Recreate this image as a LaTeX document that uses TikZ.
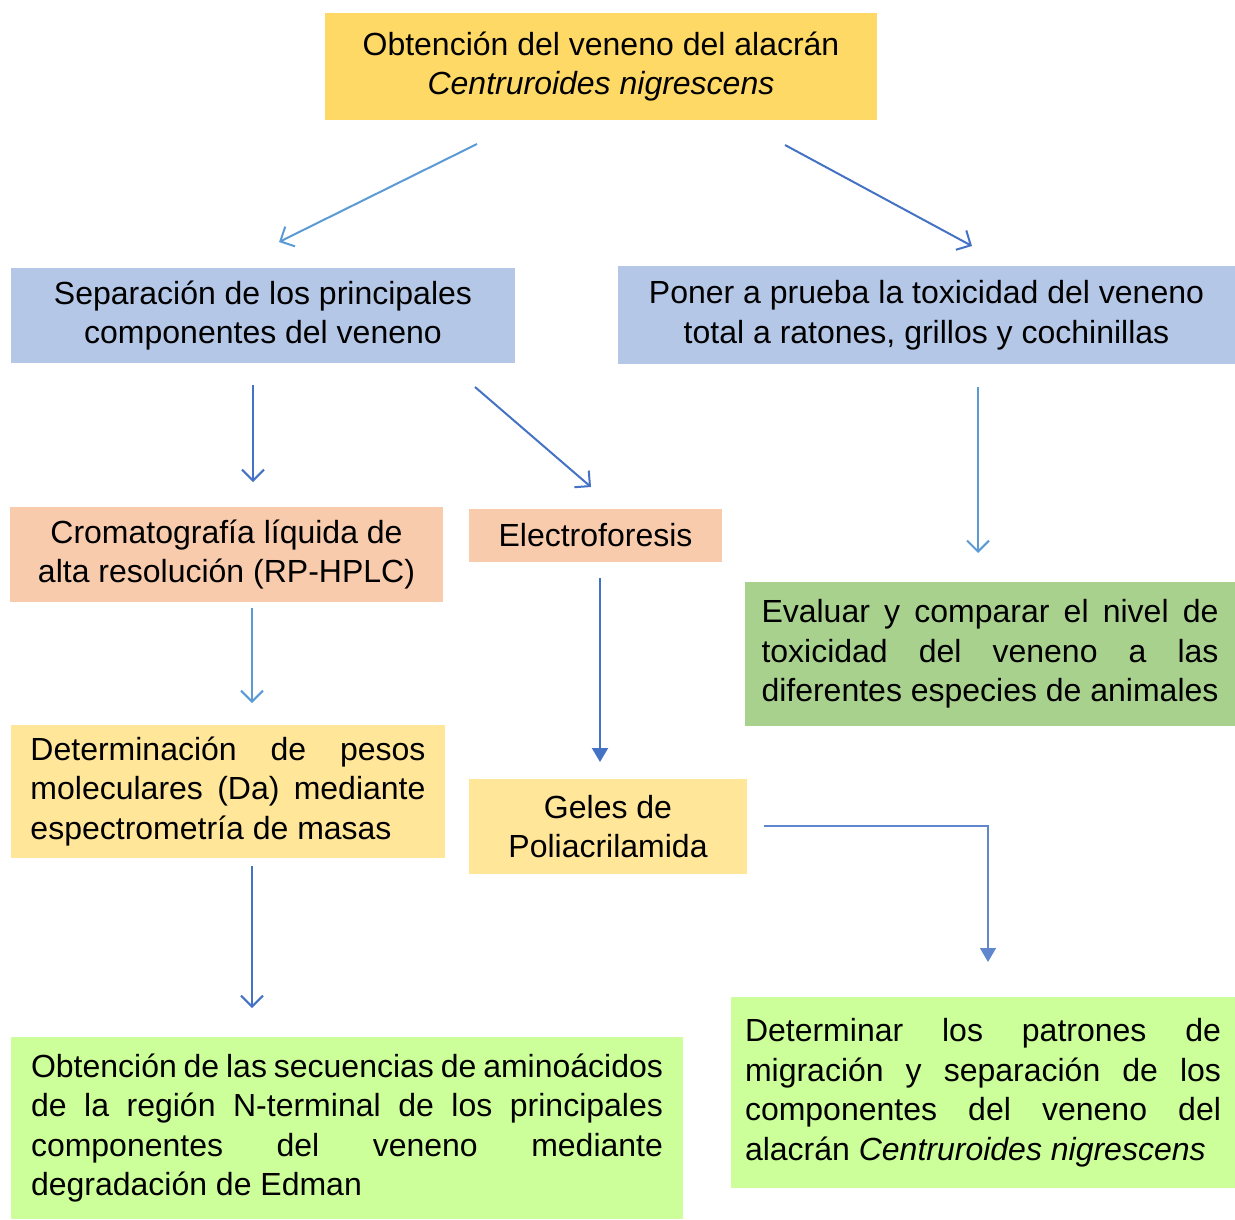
\documentclass[tikz,border=0pt]{standalone}
\usepackage{fontspec}
\setmainfont{Liberation Sans}
\usetikzlibrary{arrows.meta}
\definecolor{goldbox}{HTML}{FFD966}
\definecolor{bluebox}{HTML}{B4C7E7}
\definecolor{peachbox}{HTML}{F8CBAD}
\definecolor{creambox}{HTML}{FFE699}
\definecolor{greenbox}{HTML}{A9D18E}
\definecolor{limebox}{HTML}{CCFF99}
\definecolor{lightarrow}{HTML}{5B9BD5}
\definecolor{darkarrow}{HTML}{4472C4}
\newcommand{\nohyph}{\hyphenpenalty=10000\relax\exhyphenpenalty=10000\relax}
\tikzstyle{box}=[inner sep=0pt, font=\fontsize{32}{39.5}\selectfont\nohyph]
\tikzstyle{line}=[line width=2pt, -{Straight Barb[length=11pt,width=22pt,line width=2pt]}]
\tikzstyle{solidline}=[line width=2pt, -{Triangle[length=14pt,width=16pt]}]

\begin{document}
\begin{tikzpicture}[x=1pt, y=-1pt]
            \useasboundingbox (0,0) rectangle (1235,1220);

            \node[box, fill=goldbox, minimum width=552, minimum height=107, align=center] (venom) at (601,66.5)
                {Obtención del veneno del alacrán\\\textit{Centruroides nigrescens}};
            \node[box, fill=bluebox, minimum width=504, minimum height=95, align=center] (separa) at (263,315.5)
                {Separación de los principales\\componentes del veneno};
            \node[box, fill=bluebox, minimum width=617, minimum height=98, align=center] (toxic) at (926.5,315)
                {Poner a prueba la toxicidad del veneno\\total a ratones, grillos y cochinillas};
            \node[box, fill=peachbox, minimum width=433, minimum height=95, align=center] (hplc) at (226.5,554.5)
                {Cromatografía líquida de\\alta resolución (RP-HPLC)};
            \node[box, fill=peachbox, minimum width=253, minimum height=53, align=center] (electro) at (595.5,535.5)
                {Electroforesis};
            \node[box, fill=greenbox, minimum width=490, minimum height=144, text width=457, align=justify] (evalua) at (990,654)
                {Evaluar y comparar el nivel de\linebreak toxicidad del veneno a las\linebreak diferentes especies de animales};
            \node[box, fill=creambox, minimum width=434, minimum height=133, text width=395, align=justify] (masas) at (228,791.5)
                {Determinación de pesos\linebreak moleculares (Da) mediante\linebreak espectrometría de masas};
            \node[box, fill=limebox, minimum width=672, minimum height=182, text width=632, align=justify] (edman) at (347,1128)
                {Obtención de las secuencias de aminoácidos\linebreak de la región N-terminal de los principales\linebreak componentes del veneno mediante\linebreak degradación de Edman};
            \node[box, fill=creambox, minimum width=278, minimum height=95, align=center] (geles) at (608,826.5)
                {Geles de\\Poliacrilamida};
            \node[box, fill=limebox, minimum width=504, minimum height=191, text width=476, align=justify] (patron) at (983,1092.5)
                {Determinar los patrones de\linebreak migración y separación de los\linebreak componentes del veneno del\linebreak alacrán \textit{Centruroides nigrescens}};

            \coordinate (v1) at (477,144);
            \coordinate (s1) at (279,242);
            \coordinate (v2) at (785,145);
            \coordinate (t1) at (972,246);
            \coordinate (s2) at (253,385);
            \coordinate (h1) at (253,482);
            \coordinate (s3) at (475,387);
            \coordinate (e1) at (591,487);
            \coordinate (t2) at (978,387);
            \coordinate (ev1) at (978,553);
            \coordinate (h2) at (252,608);
            \coordinate (m1) at (252,703);
            \coordinate (e2) at (600,578);
            \coordinate (g1) at (600,762);
            \coordinate (g2) at (764,826);
            \coordinate (p1) at (988,962);
            \coordinate (m2) at (252,866);
            \coordinate (ed1) at (252,1008);

            \draw[line, lightarrow] (v1) -- (s1);
            \draw[line, darkarrow] (v2) -- (t1);
            \draw[line, darkarrow] (s2) -- (h1);
            \draw[line, darkarrow] (s3) -- (e1);
            \draw[line, lightarrow] (t2) -- (ev1);
            \draw[line, lightarrow] (h2) -- (m1);
            \draw[solidline, darkarrow] (e2) -- (g1);
            \draw[line width=1.5pt, darkarrow!85, -{Triangle[length=14pt,width=16pt]}] (g2) -| (p1);
            \draw[line, darkarrow] (m2) -- (ed1);
        \end{tikzpicture}
\end{document}
